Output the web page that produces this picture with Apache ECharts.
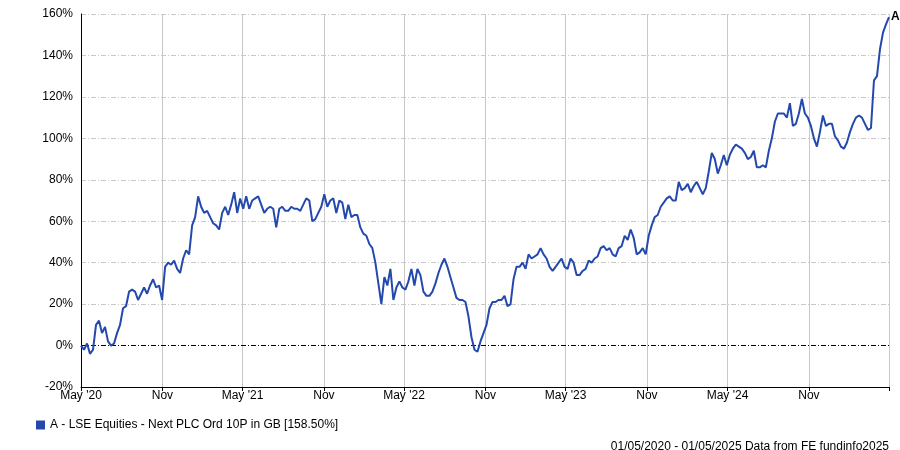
<!DOCTYPE html>
<html>
<head>
<meta charset="utf-8">
<script src="https://cdn.jsdelivr.net/npm/echarts@6/dist/echarts.min.js"></script>
<style>
html,body{margin:0;padding:0;background:#fff;}
#chart{width:900px;height:450px;}
</style>
</head>
<body>
<div id="chart"></div>
<script>
// ---- Data ----
const seriesName = "A - LSE Equities - Next PLC Ord 10P in GB [158.50%]";
const startDate = "2020-05-01";
const endDate = "2025-05-01";
// cumulative performance (%) sampled evenly from start to end
const performance = [
  0,-2,1,-4,-2,10,12,6,9,2,
  0,1,6,10,18,19,26,27,26,22,
  25,28,25,29,32,28,29,22,38,40,
  39,41,37,35,42,46,44,58,62,72,
  67,64,65,62,59,58,56,64,67,63,
  68,74,64,71,66,72,66,70,71,72,
  68,64,66,67,66,57,66,67,65,65,
  67,66,66,65,68,71,70,60,61,64,
  67,73,67,70,71,64,70,69,61,68,
  62,63,63,57,54,53,49,47,40,30,
  20,33,29,37,22,28,31,28,27,31,
  37,29,37,34,26,24,24,26,30,35,
  39,42,38,33,28,23,22,22,21,14,
  4,-2,-3,2,6,10,18,21,21,22,
  22,24,19,20,32,38,38,40,37,44,
  42,43,44,47,44,42,38,36,38,40,
  42,38,37,42,40,34,34,36,37,41,
  40,42,43,47,48,46,47,44,43,47,
  48,53,51,56,52,44,45,47,44,53,
  58,62,63,67,69,71,72,70,70,79,
  75,76,78,74,77,79,76,73,76,84,
  93,90,83,87,92,87,92,95,97,96,
  95,93,90,91,94,86,86,87,86,94,
  100,108,112,112,112,110,117,106,107,112,
  119,112,110,106,100,96,103,111,106,107,
  107,101,99,96,95,98,103,107,110,111,
  110,107,104,105,128,130,143,151,155,158.5
];
const tickDates = ["2020-05-01","2020-11-01","2021-05-01","2021-11-01","2022-05-01","2022-11-01","2023-05-01","2023-11-01","2024-05-01","2024-11-01","2025-05-01"];
const tickLabels = ["May '20","Nov","May '21","Nov","May '22","Nov","May '23","Nov","May '24","Nov",""];
const yTicks = [-20,0,20,40,60,80,100,120,140,160];
const footerText = "01/05/2020 - 01/05/2025 Data from FE fundinfo2025";

// ---- Build ----
const DAY = 86400000;
const t0 = Date.parse(startDate + "T00:00:00Z") / DAY;
const t1 = Date.parse(endDate + "T00:00:00Z") / DAY;
const n = performance.length;
const seriesData = performance.map((v, i) => [t0 + (t1 - t0) * i / (n - 1), v]);
const tickValues = tickDates.map(d => Date.parse(d + "T00:00:00Z") / DAY);
const labelValues = tickValues.filter((v, i) => tickLabels[i] !== "");

const FONT = "Liberation Sans, Arial, sans-serif";
const LINE = "#2449AD";

const chart = echarts.init(document.getElementById("chart"), null, {renderer: "canvas"});
chart.setOption({
  animation: false,
  backgroundColor: "#fff",
  textStyle: {fontFamily: FONT},
  grid: {left: 81, right: 11, top: 14, bottom: 63, containLabel: false},
  legend: {
    show: true,
    left: 31, top: 414,
    icon: "rect", itemWidth: 9, itemHeight: 9, itemGap: 6,
    textStyle: {fontFamily: FONT, fontSize: 12, color: "#000"},
    data: [seriesName]
  },
  title: {
    text: footerText,
    right: 6, top: 436,
    textStyle: {fontFamily: FONT, fontSize: 12, fontWeight: "normal", color: "#000"}
  },
  xAxis: {
    type: "value",
    min: t0, max: t1,
    axisLine: {show: true, onZero: false, lineStyle: {color: "#000", width: 1}},
    axisTick: {show: true, length: 4, inside: false, customValues: tickValues, lineStyle: {color: "#000"}},
    axisLabel: {
      show: true, margin: 3, color: "#000", fontFamily: FONT, fontSize: 12,
      customValues: labelValues,
      hideOverlap: false,
      formatter: function (v) {
        let best = 0, bd = Infinity;
        tickValues.forEach((tv, i) => { const d = Math.abs(tv - v); if (d < bd) { bd = d; best = i; } });
        return tickLabels[best];
      }
    },
    splitLine: {show: true, lineStyle: {color: "#c8c8c8", width: 1, type: "solid"}}
  },
  yAxis: {
    type: "value",
    min: yTicks[0], max: yTicks[yTicks.length - 1], interval: 20,
    axisLine: {show: true, lineStyle: {color: "#000", width: 1}},
    axisTick: {show: false},
    axisLabel: {show: true, margin: 8, color: "#000", fontFamily: FONT, fontSize: 12, formatter: "{value}%"},
    splitLine: {show: true, lineStyle: {color: "#c8c8c8", width: 1, type: [5, 2, 1, 2]}}
  },
  series: [{
    name: seriesName,
    type: "line",
    data: seriesData,
    showSymbol: false,
    symbol: "none",
    color: LINE,
    lineStyle: {color: LINE, width: 2},
    endLabel: {
      show: true, formatter: "A", fontFamily: FONT, fontSize: 12, fontWeight: "bold",
      color: "#000", distance: 2, offset: [0, 0]
    },
    markLine: {
      silent: true, symbol: "none", label: {show: false},
      lineStyle: {color: "#000", width: 1, type: [5, 2, 1, 2]},
      data: [{yAxis: 0}]
    },
    z: 5
  }]
});
</script>
</body>
</html>
